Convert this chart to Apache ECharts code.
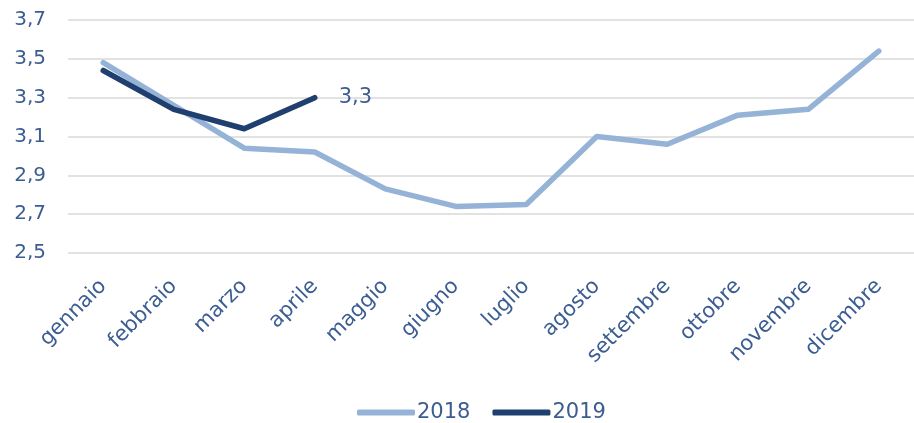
<!DOCTYPE html>
<html>
<head>
<meta charset="utf-8">
<script src="https://cdn.jsdelivr.net/npm/echarts@6/dist/echarts.min.js"></script>
<style>
  html, body { margin: 0; padding: 0; background: #fff; }
  #chart { width: 914px; height: 423px; }
</style>
</head>
<body>
<div id="chart"></div>
<script>
// mesi
var months = ['gennaio', 'febbraio', 'marzo', 'aprile', 'maggio', 'giugno',
  'luglio', 'agosto', 'settembre', 'ottobre', 'novembre', 'dicembre'];
var values2018 = [3.48, 3.26, 3.04, 3.02, 2.83, 2.74, 2.75, 3.10, 3.06, 3.21, 3.24, 3.54];
var values2019 = [3.44, 3.24, 3.14, 3.30];

var textColor = '#3b5d91';
var font = 'DejaVu Sans';

var chart = echarts.init(document.getElementById('chart'));

var option = {
  animation: false,
  grid: {
    left: 68,
    top: 20,
    width: 859,
    height: 233,
    containLabel: false
  },
  legend: {
    top: 397,
    left: 352,
    itemWidth: 58,
    itemHeight: 6,
    itemGap: 22,
    icon: 'roundRect',
    textStyle: { color: textColor, fontSize: 21, fontFamily: font, padding: [0, 0, 0, -3] },
    data: ['2018', '2019']
  },
  xAxis: {
    type: 'category',
    data: months,
    boundaryGap: true,
    axisLine: { show: false },
    axisTick: { show: false },
    axisLabel: {
      rotate: 45,
      margin: 30,
      interval: 0,
      color: textColor,
      fontSize: 21,
      fontFamily: font
    }
  },
  yAxis: {
    type: 'value',
    min: 2.5,
    max: 3.7,
    interval: 0.2,
    axisLine: { show: false },
    axisTick: { show: false },
    axisLabel: {
      margin: 22,
      color: textColor,
      fontSize: 20,
      fontFamily: font,
      formatter: function (v) { return v.toFixed(1).replace('.', ','); }
    },
    splitLine: { lineStyle: { color: '#d9d9d9', width: 1.5 } }
  },
  series: [
    {
      name: '2018',
      type: 'line',
      data: values2018,
      symbol: 'none',
      lineStyle: { color: '#95b3d7', width: 5.5, cap: 'round', join: 'round' },
      itemStyle: { color: '#95b3d7' }
    },
    {
      name: '2019',
      type: 'line',
      data: values2019,
      symbol: 'none',
      lineStyle: { color: '#1f3f6e', width: 5.5, cap: 'round', join: 'round' },
      itemStyle: { color: '#1f3f6e' },
      endLabel: {
        show: true,
        distance: 24,
        color: textColor,
        fontSize: 21,
        fontFamily: font,
        formatter: function (p) { return p.value.toFixed(1).replace('.', ','); }
      }
    }
  ]
};

chart.setOption(option);
</script>
</body>
</html>
